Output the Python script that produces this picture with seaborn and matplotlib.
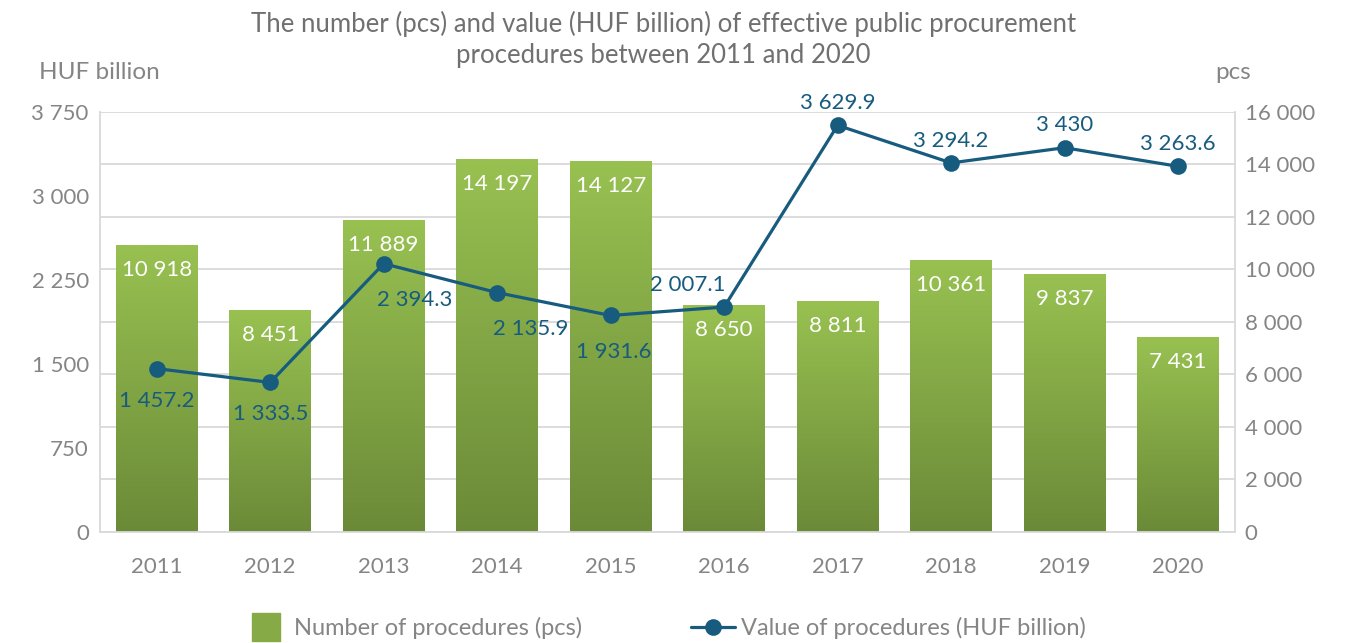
import numpy as np
import pandas as pd
import seaborn as sns
import matplotlib.pyplot as plt
from matplotlib.colors import LinearSegmentedColormap
from matplotlib.lines import Line2D

sns.set_style("white")
plt.rcParams["font.family"] = ["Lato", "DejaVu Sans"]

# ---- data ----
years = ["2011", "2012", "2013", "2014", "2015", "2016", "2017", "2018", "2019", "2020"]
procedures_pcs = [10918, 8451, 11889, 14197, 14127, 8650, 8811, 10361, 9837, 7431]
value_huf_bn = [1457.2, 1333.5, 2394.3, 2135.9, 1931.6, 2007.1, 3629.9, 3294.2, 3430, 3263.6]
left_ticks = [0, 750, 1500, 2250, 3000, 3750]
right_ticks = [0, 2000, 4000, 6000, 8000, 10000, 12000, 14000, 16000]

# where each line label sits relative to its point (points)
line_label_offsets = [(0, -23), (0, -23), (22, -26), (24, -26), (2, -26),
                      (-26, 16), (0, 16), (0, 16), (0, 16), (0, 16)]

df = pd.DataFrame({"year": years, "pcs": procedures_pcs, "huf": value_huf_bn})

GREEN_TOP = "#98c151"
GREEN_BOT = "#6b8a38"
BLUE = "#175b7e"
GREY_TXT = "#858585"
GRID = "#d9d9d9"


def fmt(v):
    if float(v).is_integer():
        return f"{int(v):,}".replace(",", " ")
    return f"{v:,.1f}".replace(",", " ")


fig = plt.figure(figsize=(13.51, 6.43), dpi=100)
fig.subplots_adjust(left=0.074, right=0.914, top=0.826, bottom=0.173)
ax = fig.add_subplot(111)

# ---- bars (right axis, pcs) ----
sns.barplot(data=df, x="year", y="pcs", ax=ax, width=0.72, color=GREEN_TOP,
            saturation=1, zorder=2)
cmap = LinearSegmentedColormap.from_list("g", [GREEN_BOT, GREEN_TOP])
grad = np.linspace(0, 1, 256).reshape(-1, 1)
for p in ax.patches:
    x0, w, h = p.get_x(), p.get_width(), p.get_height()
    im = ax.imshow(grad, extent=[x0, x0 + w, 0, h], origin="lower",
                   aspect="auto", cmap=cmap, zorder=2)
    im.set_clip_path(p)
    p.set_facecolor("none")
    p.set_edgecolor("none")
    ax.annotate(fmt(h), (x0 + w / 2, h), xytext=(0, -18), textcoords="offset points",
                ha="center", va="center", color="white", fontsize=16, zorder=3)

# ---- line (left axis, HUF billion) ----
ax2 = ax.twinx()
xpos = np.arange(len(years))
sns.lineplot(x=xpos, y=value_huf_bn, ax=ax2, color=BLUE, lw=2.3, marker="o",
             markersize=12, markeredgewidth=0, sort=False)
for x, v, off in zip(xpos, value_huf_bn, line_label_offsets):
    ax2.annotate(fmt(v), (x, v), xytext=off, textcoords="offset points",
                 ha="center", va="center", color=BLUE, fontsize=16)
ax2.set_ylim(0, 3750)
ax2.set_yticks(left_ticks)
ax2.set_yticklabels([fmt(t) for t in left_ticks])
ax2.yaxis.tick_left()
ax2.tick_params(axis="y", length=0, pad=8, labelsize=16, labelcolor=GREY_TXT)
for s in ax2.spines.values():
    s.set_visible(False)

# bar axis styling (after twinx, which resets tick sides)
ax.set_xlim(-0.5, len(years) - 0.5)
ax.set_ylim(0, 16000)
ax.set_yticks(right_ticks)
ax.set_yticklabels([fmt(t) for t in right_ticks])
ax.yaxis.tick_right()
ax.grid(axis="y", color=GRID, lw=1.3)
ax.set_axisbelow(True)
ax.set_xlabel("")
ax.set_ylabel("")
ax.tick_params(axis="y", length=0, pad=7, labelsize=16, labelcolor=GREY_TXT)
ax.tick_params(axis="x", length=0, pad=18, labelsize=16, labelcolor=GREY_TXT)
for s in ["left", "right", "bottom"]:
    ax.spines[s].set_color(GRID)
    ax.spines[s].set_linewidth(1.3)
ax.spines["top"].set_visible(False)

# ---- texts ----
fig.text(0.491, 0.938,
         "The number (pcs) and value (HUF billion) of effective public procurement\n"
         "procedures between 2011 and 2020",
         ha="center", va="center", fontsize=18.5, color="#707070", linespacing=1.3)
fig.text(0.029, 0.888, "HUF billion", ha="left", va="center", fontsize=17.5, color=GREY_TXT)
fig.text(0.913, 0.888, "pcs", ha="center", va="center", fontsize=17.5, color=GREY_TXT)

# ---- legend ----
handles = [
    Line2D([], [], ls="none", marker="s", markersize=20, color="#86aa46"),
    Line2D([], [], color=BLUE, lw=2.3, marker="o", markersize=12, markeredgewidth=0),
]
fig.legend(handles, ["Number of procedures (pcs)", "Value of procedures (HUF billion)"],
           loc="center", bbox_to_anchor=(0.492, 0.023), ncol=2, frameon=False,
           fontsize=17, labelcolor=GREY_TXT, handlelength=1.9, handletextpad=0.25,
           columnspacing=4.6)

fig.savefig("out.png", dpi=100)
plt.close(fig)
